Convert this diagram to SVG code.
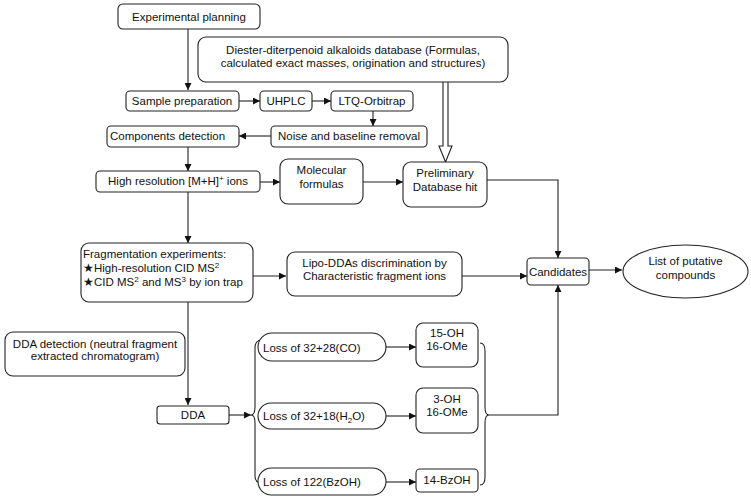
<svg xmlns="http://www.w3.org/2000/svg" width="751" height="500" viewBox="0 0 751 500">
<defs>
<style>
.b{fill:#fff;stroke:#222;stroke-width:1.1}
.t{font-family:"Liberation Sans",Arial,sans-serif;font-size:11.5px;fill:#111;text-anchor:middle}
.l{text-anchor:start}
.c{fill:none;stroke:#222;stroke-width:1.1}
.sup{font-size:8px}
</style>
<marker id="a" viewBox="0 0 10 10" refX="10" refY="5" markerWidth="7" markerHeight="7" markerUnits="userSpaceOnUse" orient="auto">
<path d="M0,0 L10,5 L0,10 z" fill="#111"/>
</marker>
</defs>
<rect width="751" height="500" fill="#fff"/>

<g id="connectors">
<path class="c" d="M188,29 V90" marker-end="url(#a)"/>
<path class="c" d="M239,101 H260" marker-end="url(#a)"/>
<path class="c" d="M312,101 H331" marker-end="url(#a)"/>
<path class="c" d="M373,111 V126" marker-end="url(#a)"/>
<path class="c" d="M271,136 H239" marker-end="url(#a)"/>
<path class="c" d="M188,147 V171" marker-end="url(#a)"/>
<path class="c" d="M260,182 H280" marker-end="url(#a)"/>
<path class="c" d="M363,182 H403" marker-end="url(#a)"/>
<path class="b" d="M443,82 V146 H439 L445.5,162 L452,146 H448 V82"/>
<path class="c" d="M487,180 H558 V258" marker-end="url(#a)"/>
<path class="c" d="M188,192 V243" marker-end="url(#a)"/>
<path class="c" d="M253,276 H286" marker-end="url(#a)"/>
<path class="c" d="M462,276 H527" marker-end="url(#a)"/>
<path class="c" d="M589,270 H622" marker-end="url(#a)"/>
<path class="c" d="M188,302 V405" marker-end="url(#a)"/>
<path class="c" d="M229,415 H251" marker-end="url(#a)"/>
<path class="c" d="M262,340 Q255,340 255,348 V407 Q255,415 251,415 Q255,415 255,423 V476 Q255,483 262,483"/>
<path class="c" d="M386,347 H416" marker-end="url(#a)"/>
<path class="c" d="M386,416 H416" marker-end="url(#a)"/>
<path class="c" d="M386,482 H416" marker-end="url(#a)"/>
<path class="c" d="M480,343 Q485,343 485,351 V407 Q485,415 489,415 Q485,415 485,423 V477 Q485,485 480,485"/>
<path class="c" d="M489,415 H558 V285" marker-end="url(#a)"/>
</g>

<g id="experimental-planning">
<rect class="b" x="118" y="4" width="142" height="25" rx="5"/>
<text class="t" x="189" y="21">Experimental planning</text>
</g>
<g id="database">
<rect class="b" x="198" y="37" width="310" height="45" rx="8"/>
<text class="t" x="353" y="54">Diester-diterpenoid alkaloids database (Formulas,</text>
<text class="t" x="353" y="67">calculated exact masses, origination and structures)</text>
</g>
<g id="sample-preparation">
<rect class="b" x="126" y="91" width="113" height="20" rx="4"/>
<text class="t" x="182" y="105">Sample preparation</text>
</g>
<g id="uhplc">
<rect class="b" x="260" y="91" width="52" height="20" rx="4"/>
<text class="t" x="286" y="105">UHPLC</text>
</g>
<g id="ltq-orbitrap">
<rect class="b" x="331" y="91" width="82" height="20" rx="4"/>
<text class="t" x="372" y="105">LTQ-Orbitrap</text>
</g>
<g id="noise-removal">
<rect class="b" x="271" y="126" width="156" height="21" rx="4"/>
<text class="t" x="349" y="140">Noise and baseline removal</text>
</g>
<g id="components-detection">
<rect class="b" x="107" y="126" width="132" height="21" rx="4"/>
<text class="t l" x="110" y="140">Components detection</text>
</g>
<g id="high-resolution">
<rect class="b" x="96" y="171" width="164" height="21" rx="4"/>
<text class="t" x="178" y="185">High resolution [M+H]<tspan class="sup" dy="-4">+</tspan><tspan dy="4"> ions</tspan></text>
</g>
<g id="molecular-formulas">
<rect class="b" x="280" y="159" width="83" height="45" rx="8"/>
<text class="t" x="321.5" y="174">Molecular</text>
<text class="t" x="321.5" y="188">formulas</text>
</g>
<g id="preliminary-hit">
<rect class="b" x="403" y="162" width="84" height="45" rx="8"/>
<text class="t" x="445" y="177">Preliminary</text>
<text class="t" x="445" y="191">Database hit</text>
</g>
<g id="fragmentation">
<rect class="b" x="81" y="243" width="172" height="59" rx="8"/>
<text class="t l" x="83" y="258">Fragmentation experiments:</text>
<text class="t l" x="83" y="272">★High-resolution CID MS<tspan class="sup" dy="-4">2</tspan></text>
<text class="t l" x="83" y="286">★CID MS<tspan class="sup" dy="-4">2</tspan><tspan dy="4"> and MS</tspan><tspan class="sup" dy="-4">3</tspan><tspan dy="4"> by ion trap</tspan></text>
</g>
<g id="lipo-ddas">
<rect class="b" x="287" y="252" width="175" height="44" rx="8"/>
<text class="t" x="374.5" y="267">Lipo-DDAs discrimination by</text>
<text class="t" x="374.5" y="280">Characteristic fragment ions</text>
</g>
<g id="candidates">
<rect class="b" x="527" y="258" width="62" height="27" rx="4"/>
<text class="t" x="558" y="276">Candidates</text>
</g>
<g id="putative-compounds">
<ellipse class="b" cx="685.5" cy="271.5" rx="62.5" ry="26.5"/>
<text class="t" x="685.5" y="265">List of putative</text>
<text class="t" x="685.5" y="279">compounds</text>
</g>
<g id="dda-detection">
<rect class="b" x="5" y="332" width="180" height="44" rx="8"/>
<text class="t" x="95" y="348">DDA detection (neutral fragment</text>
<text class="t" x="95" y="360">extracted chromatogram)</text>
</g>
<g id="dda">
<rect class="b" x="157" y="406" width="72" height="18" rx="3"/>
<text class="t" x="193" y="419">DDA</text>
</g>
<g id="loss-co">
<rect class="b" x="258" y="333" width="128" height="28" rx="14"/>
<text class="t l" x="263" y="352">Loss of 32+28(CO)</text>
</g>
<g id="loss-h2o">
<rect class="b" x="258" y="403" width="128" height="26" rx="13"/>
<text class="t l" x="263" y="420">Loss of 32+18(H<tspan class="sup" dy="3">2</tspan><tspan dy="-3">O)</tspan></text>
</g>
<g id="loss-bzoh">
<rect class="b" x="258" y="468" width="128" height="27" rx="13.5"/>
<text class="t l" x="263" y="486">Loss of 122(BzOH)</text>
</g>
<g id="oh15">
<rect class="b" x="416" y="323" width="62" height="44" rx="7"/>
<text class="t" x="447" y="337">15-OH</text>
<text class="t" x="447" y="350">16-OMe</text>
</g>
<g id="oh3">
<rect class="b" x="416" y="388" width="62" height="45" rx="7"/>
<text class="t" x="447" y="403">3-OH</text>
<text class="t" x="447" y="416">16-OMe</text>
</g>
<g id="bzoh14">
<rect class="b" x="416" y="469" width="62" height="23" rx="4"/>
<text class="t" x="447" y="484">14-BzOH</text>
</g>
</svg>
